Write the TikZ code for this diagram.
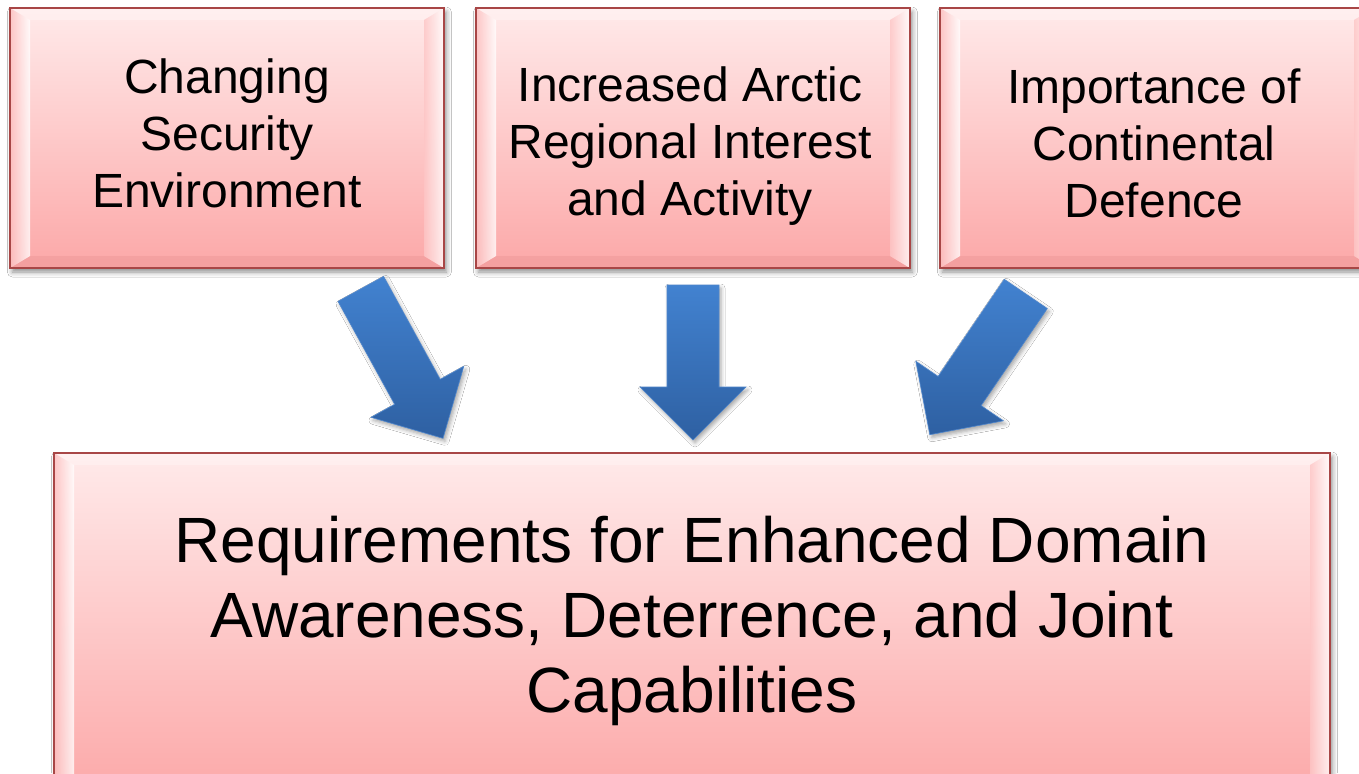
\documentclass[tikz,border=0pt]{standalone}
\usepackage{fontspec}
\setmainfont{Liberation Sans}
\usetikzlibrary{shadows.blur,calc}
\definecolor{pinkTop}{RGB}{255,234,234}
\definecolor{pinkBot}{RGB}{252,168,168}
\definecolor{boxBorder}{RGB}{168,70,70}
\definecolor{arrTop}{RGB}{66,130,208}
\definecolor{arrBot}{RGB}{46,96,162}
\definecolor{arrEdge}{RGB}{80,135,205}
\tikzset{
  bevelbox/.style={draw=boxBorder, line width=1.1pt, top color=pinkTop, bottom color=pinkBot,
    inner sep=0pt,
    blur shadow={shadow xshift=1.2pt, shadow yshift=-2pt, shadow blur radius=2.5pt, shadow opacity=45},
    path picture={
      \coordinate (pNW) at (path picture bounding box.north west);
      \coordinate (pNE) at (path picture bounding box.north east);
      \coordinate (pSW) at (path picture bounding box.south west);
      \coordinate (pSE) at (path picture bounding box.south east);
      \fill[white, fill opacity=0.3] (pNW) -- (pNE) -- ($(pNE)+(-10pt,-6pt)$) -- ($(pNW)+(10pt,-6pt)$) -- cycle;
      \fill[boxBorder, fill opacity=0.09] (pSW) -- (pSE) -- ($(pSE)+(-10pt,6pt)$) -- ($(pSW)+(10pt,6pt)$) -- cycle;
      \shade[left color=pinkBot!75!white, right color=white, fill opacity=0.8]
        (pNW) -- ($(pNW)+(10pt,-6pt)$) -- ($(pSW)+(10pt,6pt)$) -- (pSW) -- cycle;
      \shade[left color=pinkBot!55!pinkTop, right color=white, fill opacity=0.8]
        (pNE) -- ($(pNE)+(-10pt,-6pt)$) -- ($(pSE)+(-10pt,6pt)$) -- (pSE) -- cycle;
    }},
  toptext/.style={align=center, text=black, inner sep=0pt, font=\fontsize{24pt}{28.5pt}\selectfont},
  bottext/.style={align=center, text=black, inner sep=0pt, font=\fontsize{32pt}{37.3pt}\selectfont},
  blockarrow/.style={top color=arrTop, bottom color=arrBot, draw=arrEdge, line width=0.3pt,
    blur shadow={shadow xshift=1pt, shadow yshift=-1.5pt, shadow blur radius=2pt, shadow opacity=35}},
}
\begin{document}
\begin{tikzpicture}[x=0.5pt,y=-0.5pt]
\useasboundingbox (0,0) rectangle (1359,773);
\clip (0,0) rectangle (1359,773);
\fill[white] (0,0) rectangle (1359,773);

% top boxes
\node[bevelbox, minimum width=217pt, minimum height=130pt] (b1) at (227,138) {};
\node[bevelbox, minimum width=217pt, minimum height=130pt] (b2) at (693,138) {};
\node[bevelbox, minimum width=217pt, minimum height=130pt] (b3) at (1157,138) {};
% bottom box
\node[bevelbox, minimum width=638pt, minimum height=172pt] (b4) at (692,625) {};

% texts
\node[toptext] (t1) at (227,133) {Changing\\Security\\Environment};
\node[toptext] (t2) at (690,146) {Increased Arctic\\Regional Interest\\and Activity};
\node[toptext] (t3) at (1154,143) {Importance of\\Continental\\Defence};
\node[bottext] (t4) at (692,621) {Requirements for Enhanced Domain\\Awareness, Deterrence, and Joint\\Capabilities};

% block arrows
\path[blockarrow] (338.0,301.4) -- (394.6,404.3) -- (371.0,417.3) -- (443.0,438.3)
  -- (463.8,366.3) -- (440.2,379.3) -- (383.6,276.4) -- cycle;
\path[blockarrow] (667,285) -- (667,387) -- (640,387) -- (693,440) -- (746,387)
  -- (719,387) -- (719,285) -- cycle;
\path[blockarrow] (1004.3,279.3) -- (938.1,376.4) -- (915.8,361.2) -- (929.8,434.7)
  -- (1003.4,420.8) -- (981.1,405.6) -- (1047.3,308.5) -- cycle;
\end{tikzpicture}
\end{document}
